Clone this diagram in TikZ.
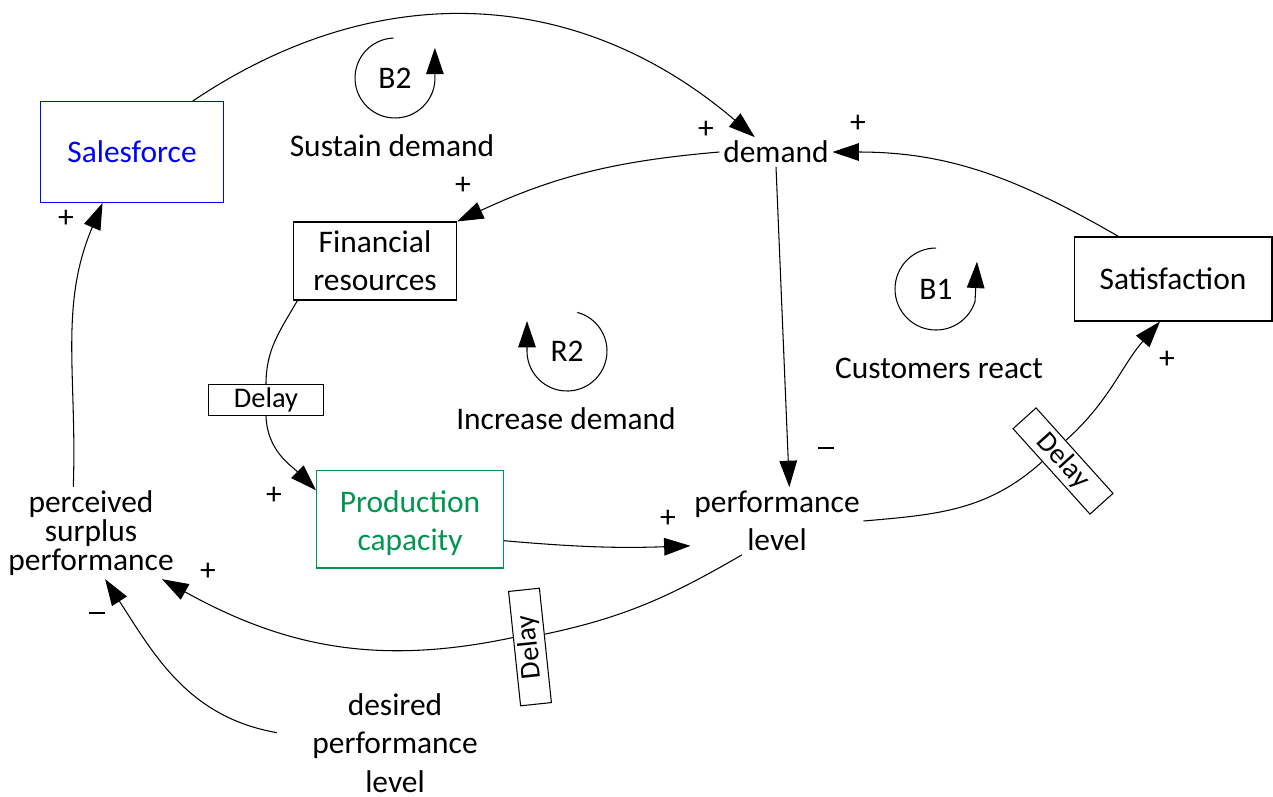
\documentclass[tikz,border=0pt]{standalone}
\usepackage{fontspec}
\setmainfont{Carlito}
\usetikzlibrary{arrows.meta}
\definecolor{prodgreen}{RGB}{0,150,80}
\newcommand{\neglink}{\rule[5.2pt]{9pt}{1.1pt}}
\tikzset{
  lbl/.style={font=\fontsize{17.9}{21.8}\selectfont, align=center, inner sep=2pt},
  var/.style={lbl, draw, line width=0.6pt},
  dly/.style={draw, line width=0.6pt, fill=white, minimum width=2.3cm, minimum height=0.62cm, inner sep=0pt, font=\fontsize{16.2}{19}\selectfont},
  lnk/.style={line width=0.6pt, -{Triangle[length=15pt,width=10pt]}},
  sgn/.style={font=\fontsize{17.9}{21.8}\selectfont, inner sep=0pt},
}
\begin{document}
\begin{tikzpicture}[x=0.02cm,y=0.02cm]
 \useasboundingbox (0,0) rectangle (1273,-796);

 % variables
 \node[var,draw=blue,text=blue,minimum width=3.66cm,minimum height=2.02cm] (sales) at (132,-152) {Salesforce};
 \node[lbl] (demand) at (776,-152) {demand};
 \node[var,minimum width=3.26cm,minimum height=1.56cm] (fin) at (375,-261) {Financial\\resources};
 \node[var,minimum width=3.96cm,minimum height=1.68cm] (sat) at (1173,-279) {Satisfaction};
 \node[var,draw=prodgreen,text=prodgreen,minimum width=3.74cm,minimum height=1.96cm] (prod) at (410,-519) {\rule{0pt}{17pt}Production\\capacity};
 \node[lbl] (perf) at (777,-521) {performance\\level};
 \node[lbl,font=\fontsize{17.9}{16.4}\selectfont] (perc) at (91,-533) {perceived\\surplus\\performance};
 \node[lbl,inner xsep=20pt] (desired) at (395,-743) {desired\\performance\\level};

 % delays
 \node[dly] (dl1) at (266,-400) {Delay};
 \node[dly,rotate=-48] (dl2) at (1063,-461) {Delay};
 \node[dly,rotate=96] (dl3) at (530,-647) {Delay};

 % loops
 \node[lbl] (b2) at (395,-78) {B2};
 \node[lbl] (b2txt) at (392,-146) {Sustain demand};
 \draw[lnk] ([shift={(92:0.8cm)}]b2.center) arc[start angle=92,end angle=356,radius=0.8cm] -- ++(0,0.66cm);
 \node[lbl] (b1) at (936,-289) {B1};
 \node[lbl] (b1txt) at (939,-368) {Customers react};
 \draw[lnk] ([shift={(90:0.82cm)}]b1.center) arc[start angle=90,end angle=342,radius=0.82cm] -- ++(0.04cm,0.8cm);
 \node[lbl] (r2) at (567,-351) {R2};
 \node[lbl] (r2txt) at (566,-419) {Increase demand};
 \draw[lnk] ([shift={(75:0.8cm)}]r2.center) arc[start angle=75,end angle=-180,radius=0.8cm] -- ++(0,0.6cm);

 % links
 \draw[lnk] (sales.40) .. controls (380,25) and (580,12) .. (demand.145);
 \draw[lnk] (demand.west) to[bend right=10] (fin.north east);
 \draw[lnk] (sat.142) to[out=150,in=0] (demand.east);
 \draw[lnk] (demand.south) -- (perf.70);
 \draw[line width=0.6pt] (fin.207) to[out=240,in=90] (dl1.north);
 \draw[lnk] (dl1.south) to[out=-88,in=135] (prod.163);
 \draw[lnk] (prod.-13) to[out=-5,in=182] (perf.196);
 \draw[line width=0.6pt] (perf.east) to[out=5,in=222] (dl2.-130);
 \draw[lnk] (dl2.130) to[out=42,in=229] (sat.-107);
 \draw[line width=0.6pt] (perf.224) to[out=210,in=12] (dl3.-55);
 \draw[lnk] (dl3.55) to[out=192,in=-29] (perc.-33);
 \draw[lnk] (desired.175) to[out=170,in=-57] (perc.-73);
 \draw[lnk] (perc.111) to[out=88,in=-113] (sales.-120);

 % polarities
 \node[sgn] (s1) at (706,-130) {+};
 \node[sgn] (s2) at (463,-186) {+};
 \node[sgn] (s3) at (858,-124) {+};
 \node[sgn] (s4) at (826,-453) {\neglink};
 \node[sgn] (s5) at (274,-496) {+};
 \node[sgn] (s6) at (668,-519) {+};
 \node[sgn] (s7) at (1167,-360) {+};
 \node[sgn] (s8) at (208,-572) {+};
 \node[sgn] (s9) at (97,-618) {\neglink};
 \node[sgn] (s10) at (66,-219) {+};
\end{tikzpicture}
\end{document}
